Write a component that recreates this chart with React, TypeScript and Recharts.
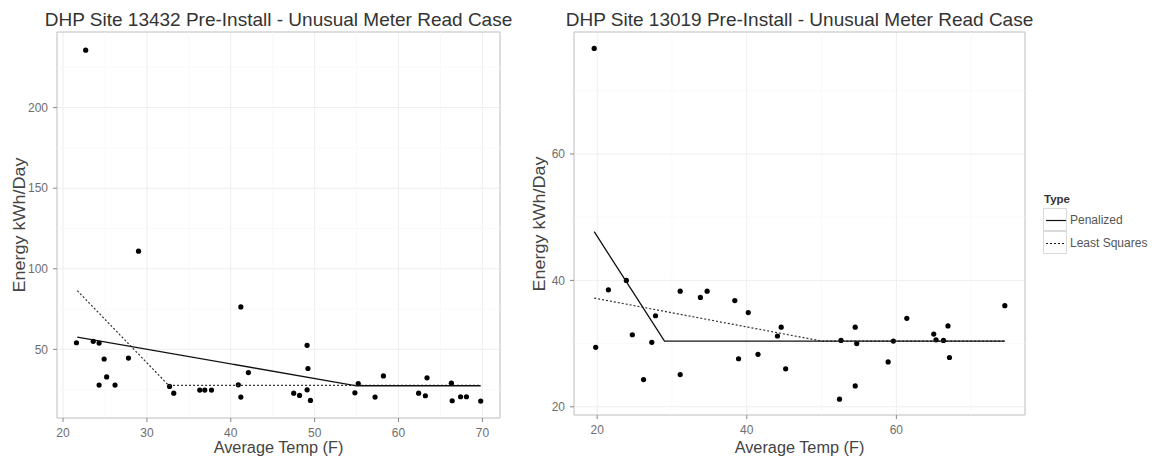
import {
  ScatterChart,
  Scatter,
  XAxis,
  YAxis,
  CartesianGrid,
  ReferenceArea,
  ReferenceLine,
} from "recharts";

// site 13432 (left panel)
const tempA = [21.6, 22.7, 23.6, 24.3, 24.3, 24.9, 25.2, 26.2, 27.8, 29.0, 32.7, 33.2, 36.3, 36.9, 37.7, 40.9, 41.2, 41.2, 42.1, 47.5, 48.2, 49.1, 49.2, 49.1, 49.5, 54.8, 55.2, 57.2, 58.2, 62.4, 63.2, 63.4, 66.3, 66.4, 67.4, 68.1, 69.8];
const energyA = [54.1, 235.6, 55, 53.9, 27.8, 44, 32.9, 27.8, 44.6, 110.9, 27, 22.8, 24.7, 24.7, 24.7, 28, 76.3, 20.4, 35.6, 22.8, 21.4, 52.5, 38.1, 24.9, 18.3, 23, 28.8, 20.4, 33.5, 22.8, 21.2, 32.3, 29, 18.1, 20.6, 20.6, 17.9];
const penTempA = [21.7, 55.0, 69.8];
const penEnergyA = [57.6, 27.4, 27.4];
const lsTempA = [21.7, 32.6, 69.8];
const lsEnergyA = [86.4, 27.6, 27.6];
const xTicksA = [20, 30, 40, 50, 60, 70];
const xMinorA = [25, 35, 45, 55, 65];
const yTicksA = [50, 100, 150, 200];
const yMinorA = [25, 75, 125, 175, 225];

// site 13019 (right panel)
const tempB = [19.6, 19.8, 21.5, 23.9, 24.7, 26.2, 27.3, 27.8, 31.1, 31.1, 33.8, 34.7, 38.4, 38.9, 40.2, 41.5, 44.1, 44.6, 45.2, 52.4, 52.6, 54.5, 54.7, 54.5, 58.9, 59.6, 61.4, 65.0, 65.3, 66.3, 66.9, 67.1, 74.5];
const energyB = [76.7, 29.4, 38.5, 40.0, 31.4, 24.3, 30.2, 34.4, 38.3, 25.1, 37.3, 38.3, 36.8, 27.6, 34.9, 28.3, 31.2, 32.6, 26.0, 21.2, 30.5, 32.6, 30.0, 23.3, 27.1, 30.4, 34.0, 31.5, 30.6, 30.5, 32.8, 27.8, 36.0];
const penTempB = [19.6, 29.0, 74.5];
const penEnergyB = [47.7, 30.4, 30.4];
const lsTempB = [19.6, 50.0, 74.5];
const lsEnergyB = [37.2, 30.4, 30.4];
const xTicksB = [20, 40, 60];
const xMinorB = [30, 50, 70];
const yTicksB = [20, 40, 60];
const yMinorB = [30, 50, 70];

const FONT = "'Liberation Sans', Arial, Helvetica, sans-serif";
const zip = (xs: number[], ys: number[]) => xs.map((x, i) => ({ x, y: ys[i] }));

const Dot = (p: any) => <circle cx={p.cx} cy={p.cy} r={2.6} fill="#000" />;
const NoDot = () => <g />;

type PanelProps = {
  left: number;
  width: number;
  marginRight: number;
  yAxisWidth: number;
  xAxisHeight: number;
  title: string;
  points: { x: number; y: number }[];
  pen: { x: number; y: number }[];
  ls: { x: number; y: number }[];
  xDomain: [number, number];
  yDomain: [number, number];
  xTicks: number[];
  yTicks: number[];
  xMinor: number[];
  yMinor: number[];
};

function Panel(p: PanelProps) {
  const plotLeft = p.left + p.yAxisWidth;
  const plotRight = p.left + p.width - p.marginRight;
  const plotBottom = 458 - p.xAxisHeight;
  const cx = (plotLeft + plotRight) / 2;
  const cy = (32 + plotBottom) / 2;
  const tick = { fontSize: 12, fill: "#6e6e6e", fontFamily: FONT };
  return (
    <>
      <div
        style={{
          position: "absolute",
          left: cx - 300,
          width: 600,
          top: 9,
          textAlign: "center",
          fontFamily: FONT,
          fontSize: 19,
          lineHeight: "22px",
          color: "#333",
          whiteSpace: "nowrap",
        }}
      >
        {p.title}
      </div>
      <div
        style={{
          position: "absolute",
          left: cx - 150,
          width: 300,
          top: 438,
          textAlign: "center",
          fontFamily: FONT,
          fontSize: 16.3,
          lineHeight: "19px",
          color: "#444",
        }}
      >
        Average Temp (F)
      </div>
      <div
        style={{
          position: "absolute",
          left: p.left + 20 - 150,
          width: 300,
          top: cy - 10,
          textAlign: "center",
          fontFamily: FONT,
          fontSize: 18,
          lineHeight: "20px",
          color: "#444",
          transform: "rotate(-90deg) scaleY(0.88)",
        }}
      >
        Energy kWh/Day
      </div>
      <div style={{ position: "absolute", left: p.left, top: 0 }}>
        <ScatterChart
          width={p.width}
          height={458}
          margin={{ top: 32, right: p.marginRight, bottom: 0, left: 0 }}
        >
          <CartesianGrid stroke="#eeeeee" strokeWidth={1} />
          {p.xMinor.map((v) => (
            <ReferenceLine key={"xm" + v} x={v} stroke="#f7f7f7" strokeWidth={0.8} />
          ))}
          {p.yMinor.map((v) => (
            <ReferenceLine key={"ym" + v} y={v} stroke="#f7f7f7" strokeWidth={0.8} />
          ))}
          <XAxis
            type="number"
            dataKey="x"
            domain={p.xDomain}
            ticks={p.xTicks}
            allowDataOverflow
            height={p.xAxisHeight}
            axisLine={false}
            tickLine={{ stroke: "#888" }}
            tickSize={4}
            tickMargin={6}
            tick={tick}
          />
          <YAxis
            type="number"
            dataKey="y"
            domain={p.yDomain}
            ticks={p.yTicks}
            allowDataOverflow
            width={p.yAxisWidth}
            axisLine={false}
            tickLine={{ stroke: "#888" }}
            tickSize={4}
            tickMargin={5}
            tick={tick}
          />
          <ReferenceArea
            x1={p.xDomain[0]}
            x2={p.xDomain[1]}
            y1={p.yDomain[0]}
            y2={p.yDomain[1]}
            fill="none"
            stroke="#c4c4c4"
            strokeWidth={1}
          />
          <Scatter data={p.points} shape={Dot} isAnimationActive={false} />
          <Scatter
            data={p.ls}
            shape={NoDot}
            line={{ stroke: "#333", strokeWidth: 1.2, strokeDasharray: "2 2" }}
            lineType="joint"
            isAnimationActive={false}
          />
          <Scatter
            data={p.pen}
            shape={NoDot}
            line={{ stroke: "#111", strokeWidth: 1.3 }}
            lineType="joint"
            isAnimationActive={false}
          />
        </ScatterChart>
      </div>
    </>
  );
}

function Legend() {
  const row = (label: string, dash?: string) => (
    <div style={{ display: "flex", alignItems: "center", height: 23 }}>
      <svg width={24} height={23} style={{ border: "1px solid #dadada", boxSizing: "border-box" }}>
        <line x1={2} x2={22} y1={11.5} y2={11.5} stroke="#111" strokeWidth={1.2} strokeDasharray={dash} />
      </svg>
      <span style={{ marginLeft: 3, fontSize: 12, color: "#555" }}>{label}</span>
    </div>
  );
  return (
    <div style={{ position: "absolute", left: 1043, top: 193, fontFamily: FONT }}>
      <div style={{ fontSize: 11.5, fontWeight: "bold", color: "#333", marginBottom: 3, marginLeft: 1 }}>Type</div>
      {row("Penalized")}
      {row("Least Squares", "2 2")}
    </div>
  );
}

export default function App() {
  return (
    <div style={{ position: "fixed", left: 0, top: 0, width: 1152, height: 458, background: "#fff" }}>
      <Panel
        left={0}
        width={520}
        marginRight={20}
        yAxisWidth={57}
        xAxisHeight={40}
        title="DHP Site 13432 Pre-Install - Unusual Meter Read Case"
        points={zip(tempA, energyA)}
        pen={zip(penTempA, penEnergyA)}
        ls={zip(lsTempA, lsEnergyA)}
        xDomain={[19.28, 72.1]}
        yDomain={[7.4, 246.9]}
        xTicks={xTicksA}
        yTicks={yTicksA}
        xMinor={xMinorA}
        yMinor={yMinorA}
      />
      <Panel
        left={520}
        width={520}
        marginRight={15}
        yAxisWidth={54}
        xAxisHeight={43}
        title="DHP Site 13019 Pre-Install - Unusual Meter Read Case"
        points={zip(tempB, energyB)}
        pen={zip(penTempB, penEnergyB)}
        ls={zip(lsTempB, lsEnergyB)}
        xDomain={[16.9, 77.2]}
        yDomain={[18.7, 79.3]}
        xTicks={xTicksB}
        yTicks={yTicksB}
        xMinor={xMinorB}
        yMinor={yMinorB}
      />
      <Legend />
    </div>
  );
}
